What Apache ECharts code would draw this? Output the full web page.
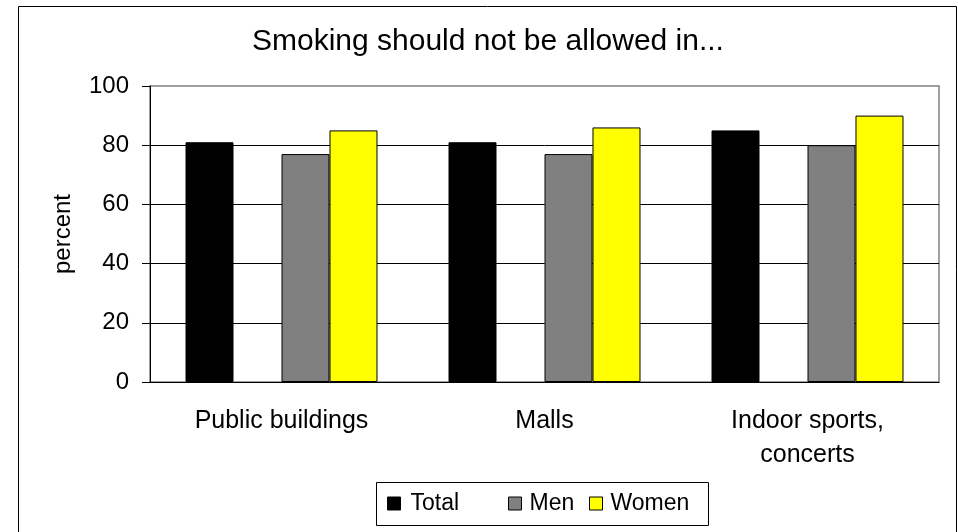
<!DOCTYPE html>
<html>
<head>
<meta charset="utf-8">
<script src="https://cdn.jsdelivr.net/npm/echarts@6/dist/echarts.min.js"></script>
<style>
  html, body { margin: 0; padding: 0; background: #fff; }
  #chart { width: 958px; height: 532px; }
</style>
</head>
<body>
<div id="chart"></div>
<script>
// Survey: share of respondents who say smoking should not be allowed in each place
const categories = ['Public buildings', 'Malls', 'Indoor sports,\nconcerts'];
const totalValues = [81, 81, 85];
const menValues = [77, 77, 80];
const womenValues = [85, 86, 90];
const yTicks = [0, 20, 40, 60, 80, 100];

const FONT = '"Liberation Sans", Arial, sans-serif';
const chart = echarts.init(document.getElementById('chart'), null, { renderer: 'canvas' });

function legendAt(left, name, textGap) {
  return {
    left: left,
    top: 492,
    data: [name],
    itemWidth: 13,
    itemHeight: 13,
    itemGap: 0,
    icon: 'rect',
    selectedMode: false,
    padding: 0,
    itemStyle: { borderColor: '#000', borderWidth: 1 },
    textStyle: { fontFamily: FONT, fontSize: 23, color: '#000', padding: [0, 0, 0, textGap] }
  };
}

chart.setOption({
  animation: false,
  backgroundColor: '#fff',
  title: {
    text: 'Smoking should not be allowed in...',
    left: 252,
    top: 27,
    padding: 0,
    textStyle: { fontFamily: FONT, fontSize: 30, fontWeight: 'normal', color: '#000', lineHeight: 30 }
  },
  legend: [
    legendAt(387, 'Total', 5),
    legendAt(508, 'Men', 3),
    legendAt(589, 'Women', 3)
  ],
  grid: {
    left: 150, right: 19, top: 86, bottom: 150,
    show: true, borderColor: '#808080', borderWidth: 1.5, backgroundColor: 'transparent'
  },
  xAxis: {
    type: 'category',
    data: categories,
    axisLine: { lineStyle: { color: '#000', width: 1 } },
    axisTick: { length: 8, lineStyle: { color: '#000' } },
    axisLabel: { fontFamily: FONT, fontSize: 25, color: '#000', margin: 22, lineHeight: 34 }
  },
  yAxis: {
    type: 'value',
    min: yTicks[0],
    max: yTicks[yTicks.length - 1],
    interval: yTicks[1] - yTicks[0],
    name: 'percent',
    nameLocation: 'middle',
    nameGap: 75,
    nameTextStyle: { fontFamily: FONT, fontSize: 24, color: '#000' },
    axisLine: { show: true, lineStyle: { color: '#000', width: 1 } },
    axisTick: { show: true, length: 8, lineStyle: { color: '#000' } },
    axisLabel: { fontFamily: FONT, fontSize: 24, color: '#000', margin: 21 },
    splitLine: { show: true, showMaxLine: false, lineStyle: { color: '#000', width: 1 } }
  },
  series: [
    {
      name: 'Total', type: 'bar', data: totalValues,
      barGap: '0%', barCategoryGap: '27%',
      itemStyle: { color: '#000', borderColor: '#000', borderWidth: 1 }
    },
    {
      // empty slot that keeps the space between Total and Men
      name: 'spacer', type: 'bar', data: categories.map(() => null),
      barGap: '0%', barCategoryGap: '27%', silent: true
    },
    {
      name: 'Men', type: 'bar', data: menValues,
      barGap: '0%', barCategoryGap: '27%',
      itemStyle: { color: '#808080', borderColor: '#000', borderWidth: 1 }
    },
    {
      name: 'Women', type: 'bar', data: womenValues,
      barGap: '0%', barCategoryGap: '27%',
      itemStyle: { color: '#ffff00', borderColor: '#000', borderWidth: 1 }
    }
  ],
  graphic: [
    {
      type: 'rect', silent: true, z: -1,
      shape: { x: 18.5, y: 6.5, width: 938, height: 530 },
      style: { fill: 'none', stroke: '#000', lineWidth: 1 }
    },
    {
      type: 'rect', silent: true,
      shape: { x: 376.5, y: 482.5, width: 332, height: 43 },
      style: { fill: 'none', stroke: '#000', lineWidth: 1 }
    }
  ]
});
</script>
</body>
</html>
